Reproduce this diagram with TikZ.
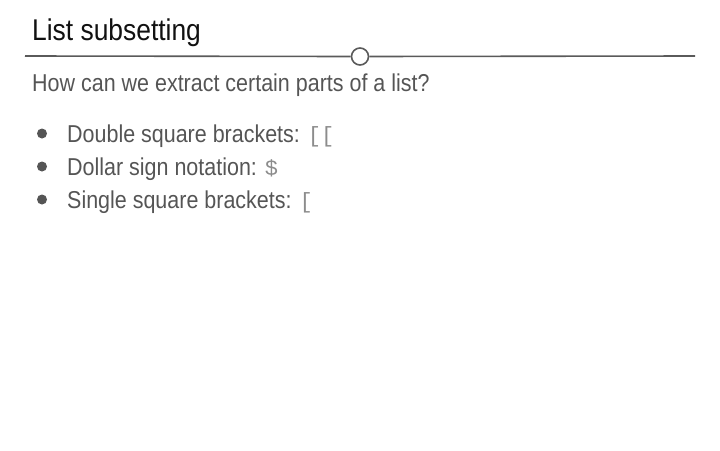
\documentclass[tikz,border=0pt]{standalone}
\usepackage{fontspec}
\setmainfont{Liberation Sans}[FakeStretch=0.88]
\setmonofont{Liberation Mono}
\definecolor{titlecol}{HTML}{111111}
\definecolor{bodycol}{HTML}{555555}
\definecolor{codecol}{HTML}{8C8C8C}
\definecolor{rulecol}{HTML}{5A5A5A}
\begin{document}
\begin{tikzpicture}[x=1pt,y=-1pt,
  titletext/.style={anchor=base west,inner sep=0pt,text=titlecol,font=\fontsize{30}{34}\selectfont},
  bodytext/.style={anchor=base west,inner sep=0pt,text=bodycol,font=\fontsize{24.4}{28}\selectfont},
  bulletdot/.style={circle,fill=bodycol,inner sep=0pt,minimum size=10pt},
  rulecircle/.style={circle,draw=rulecol,line width=1.6pt,fill=white,inner sep=0pt,minimum size=17pt}]
\useasboundingbox (0,0) rectangle (720,450);
\node[titletext] (title) at (32,40) {List subsetting};
\coordinate (rl) at (25,56);
\coordinate (rr) at (695,56);
\node[rulecircle] (rc) at (360,56.5) {};
\draw[rulecol,line width=1.6pt] (rl) -- (rc.west);
\draw[rulecol,line width=1.6pt] (rc.east) -- (rr);
\node[bodytext] (q) at (32,91) {How can we extract certain parts of a list?};
\node[bulletdot] (b1) at (42,133.5) {};
\node[bulletdot] (b2) at (42,166.5) {};
\node[bulletdot] (b3) at (42,199.5) {};
\node[bodytext] (i1) at (67,142) {Double square brackets: {\color{codecol}\fontsize{22}{26}\ttfamily [[}};
\node[bodytext] (i2) at (67,175) {Dollar sign notation: {\color{codecol}\fontsize{22}{26}\ttfamily \$}};
\node[bodytext] (i3) at (67,208) {Single square brackets: {\color{codecol}\fontsize{22}{26}\ttfamily [}};
\end{tikzpicture}
\end{document}
